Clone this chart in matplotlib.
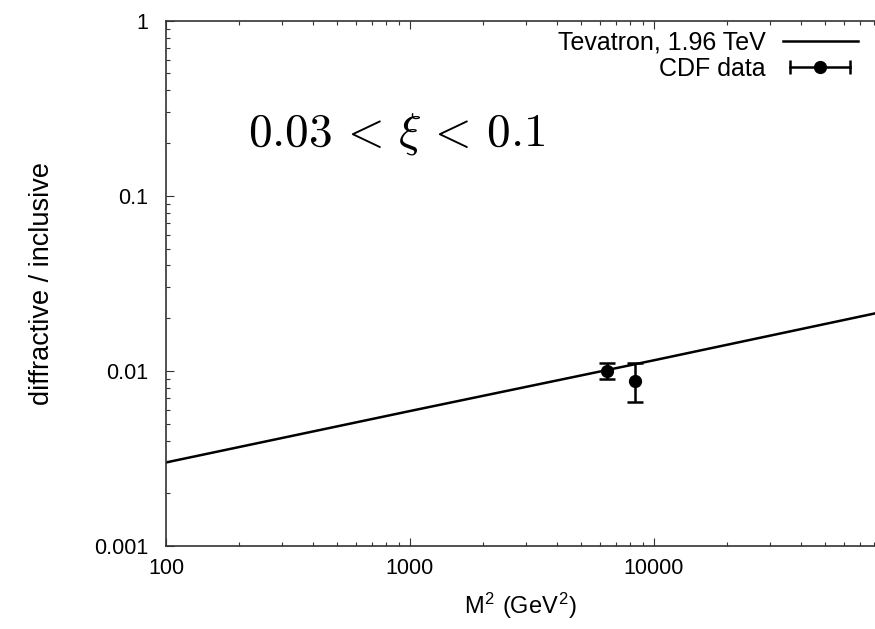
import numpy as np
import matplotlib
matplotlib.use('Agg')
import matplotlib.pyplot as plt
from matplotlib.lines import Line2D
from matplotlib.legend_handler import HandlerLine2D, HandlerTuple
from matplotlib.ticker import FuncFormatter, LogLocator

plt.rcParams['font.family'] = ['Liberation Sans', 'DejaVu Sans']
plt.rcParams['mathtext.fontset'] = 'cm'

# theory curve (Tevatron, 1.96 TeV)
m2_theory = [100, 1000, 10000, 80500]
ratio_theory = [0.0030, 0.0059, 0.0115, 0.0213]

# CDF data
m2_cdf = [6435, 8360]
ratio_cdf = [0.0100, 0.00879]
err_lo = [0.00105, 0.00212]
err_hi = [0.00105, 0.00226]

xlim = (100, 80500)
ylim = (0.001, 1)

fig = plt.figure(figsize=(8.75, 6.29), dpi=100)
ax = fig.add_axes([166 / 875, 1 - 546 / 629, 1 - 166 / 875, (546 - 20.7) / 629])

ax.plot(m2_theory, ratio_theory, color='k', lw=1.8)
ax.errorbar(m2_cdf, ratio_cdf, yerr=[err_lo, err_hi], fmt='o', color='k', ms=8.5,
            elinewidth=1.8, capsize=6, capthick=1.8)

ax.set_xscale('log')
ax.set_yscale('log')
ax.set_xlim(*xlim)
ax.set_ylim(*ylim)

fmt = FuncFormatter(lambda v, p: '%g' % v)
ax.xaxis.set_major_formatter(fmt)
ax.yaxis.set_major_formatter(fmt)
ax.xaxis.set_minor_formatter(plt.NullFormatter())
ax.yaxis.set_minor_formatter(plt.NullFormatter())
ax.xaxis.set_major_locator(LogLocator(base=10, numticks=10))
ax.yaxis.set_major_locator(LogLocator(base=10, numticks=10))

ax.tick_params(which='both', direction='in', top=True, right=False, width=0.8,
               color='#333333', labelsize=15.5)
ax.tick_params(axis='y', pad=13)
ax.tick_params(axis='x', pad=9)
ax.tick_params(which='major', length=6)
ax.tick_params(which='minor', length=3)
for s in ['left', 'bottom', 'top']:
    ax.spines[s].set_color('#333333')
    ax.spines[s].set_linewidth(1.2)
ax.spines['right'].set_visible(False)

ax.set_xlabel(r'M$^\mathregular{2}$ (GeV$^\mathregular{2}$)', fontsize=17, labelpad=8)
ax.set_ylabel('diffractive / inclusive', fontsize=19.5, labelpad=28)

ax.text(0.115, 0.763, r'$0.03 \,<\, \xi \,<\, 0.1$', transform=ax.transAxes, fontsize=34)

# legend: line, and a horizontal errorbar symbol for the data
theory_h = Line2D([], [], color='k', lw=1.8)
caps_h = Line2D([], [], color='k', lw=1.8, marker='|', ms=10, mew=1.8)
dot_h = Line2D([], [], color='k', ls='none', marker='o', ms=8.5)
leg = ax.legend([theory_h, (caps_h, dot_h)], ['Tevatron, 1.96 TeV', 'CDF data'],
                handler_map={caps_h: HandlerLine2D(numpoints=2),
                             dot_h: HandlerLine2D(numpoints=1),
                             tuple: HandlerTuple(ndivide=1)},
                loc='upper right', bbox_to_anchor=(0.99, 1.0), markerfirst=False,
                frameon=False, fontsize=18, handlelength=3.0, handletextpad=0.7,
                labelspacing=0.1, borderaxespad=0.0)

fig.savefig('out.png', dpi=100)
